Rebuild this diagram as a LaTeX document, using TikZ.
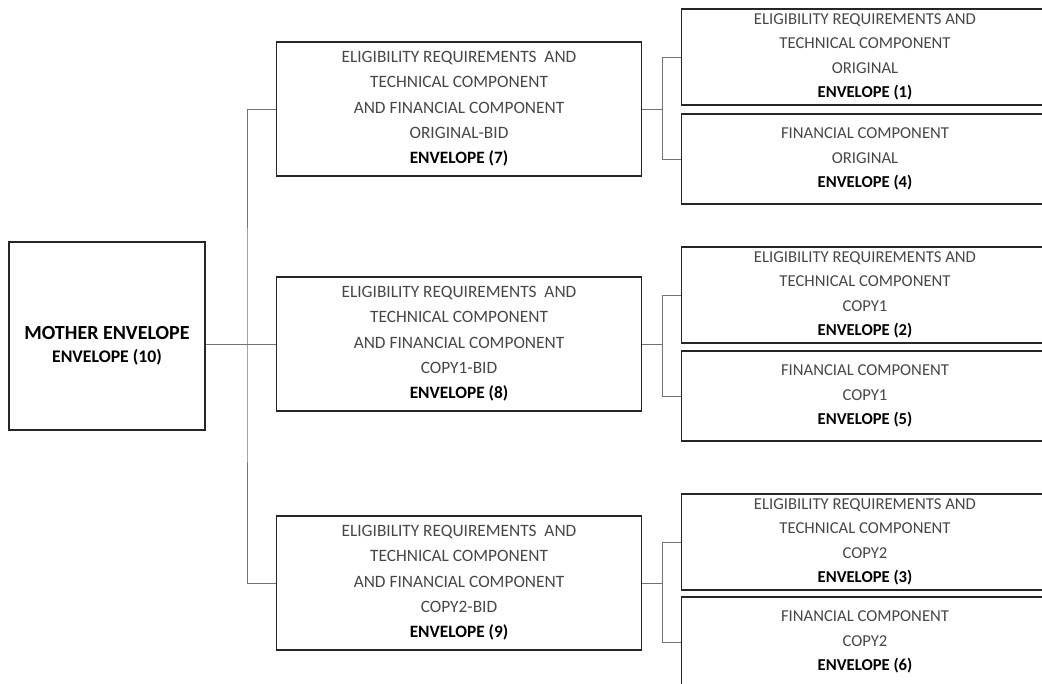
\documentclass[tikz,border=0pt]{standalone}
\usepackage{fontspec}
\setmainfont{Carlito}
\usetikzlibrary{positioning}
\tikzset{
  motherbox/.style={
    rectangle, draw=black!85, line width=1.2pt,
    minimum width=147pt, minimum height=141pt
  },
  bidbox/.style={
    rectangle, draw=black!85, line width=1.2pt,
    minimum width=274pt, minimum height=100.5pt,
    align=center, text=black!72,
    font=\fontsize{13}{19}\selectfont
  },
  partbox/.style={
    rectangle, draw=black!85, line width=1.2pt,
    minimum width=275pt, minimum height=67.5pt,
    align=center, text=black!72,
    font=\fontsize{12.5}{18.4}\selectfont
  },
  link/.style={
    line width=0.6pt, color=black!55
  }
}
\newcommand{\envno}[1]{\textcolor{black}{\textbf{ENVELOPE (#1)}}}

\begin{document}
\begin{tikzpicture}[x=0.75pt, y=-0.75pt]
    \clip (0,0) rectangle (1042,684);

    % Mother envelope
    \node[motherbox] (mother) at (107,336) {};
    \node[align=center, font=\bfseries] (mothertext) at (107,346)
      {{\fontsize{15}{18}\selectfont MOTHER ENVELOPE}\\[5pt]
       {\fontsize{13.3}{16}\selectfont ENVELOPE (10)}};

    % Bid envelopes
    \node[bidbox] (bid1) at (459,109) {ELIGIBILITY REQUIREMENTS\ \ AND\\ TECHNICAL COMPONENT\\ AND FINANCIAL COMPONENT\\ ORIGINAL-BID\\ \envno{7}};
    \node[bidbox] (bid2) at (459,344) {ELIGIBILITY REQUIREMENTS\ \ AND\\ TECHNICAL COMPONENT\\ AND FINANCIAL COMPONENT\\ COPY1-BID\\ \envno{8}};
    \node[bidbox] (bid3) at (459,583) {ELIGIBILITY REQUIREMENTS\ \ AND\\ TECHNICAL COMPONENT\\ AND FINANCIAL COMPONENT\\ COPY2-BID\\ \envno{9}};

    % Component envelopes
    \node[partbox] (tech1) at (865,57) {ELIGIBILITY REQUIREMENTS AND\\ TECHNICAL COMPONENT\\ ORIGINAL\\ \envno{1}};
    \node[partbox] (fin1) at (865,159) {FINANCIAL COMPONENT\\ ORIGINAL\\ \envno{4}};
    \node[partbox] (tech2) at (865,295) {ELIGIBILITY REQUIREMENTS AND\\ TECHNICAL COMPONENT\\ COPY1\\ \envno{2}};
    \node[partbox] (fin2) at (865,396) {FINANCIAL COMPONENT\\ COPY1\\ \envno{5}};
    \node[partbox] (tech3) at (865,542) {ELIGIBILITY REQUIREMENTS AND\\ TECHNICAL COMPONENT\\ COPY2\\ \envno{3}};
    \node[partbox] (fin3) at (865,642) {FINANCIAL COMPONENT\\ COPY2\\ \envno{6}};

    % Trunk from mother to bids
    \coordinate (trunk) at (247,344);
    \draw[link] (bid2.west -| mother.east) -- (bid2.west);
    \draw[link] (bid1.west) -| (trunk) |- (bid3.west);

    % Brackets from bids to components
    \draw[link] (bid1.east) -- ++(20,0) coordinate (fork1);
    \draw[link] (tech1.west) -| (fork1) |- (fin1.west);
    \draw[link] (bid2.east) -- ++(20,0) coordinate (fork2);
    \draw[link] (tech2.west) -| (fork2) |- (fin2.west);
    \draw[link] (bid3.east) -- ++(20,0) coordinate (fork3);
    \draw[link] (tech3.west) -| (fork3) |- (fin3.west);

\end{tikzpicture}
\end{document}
